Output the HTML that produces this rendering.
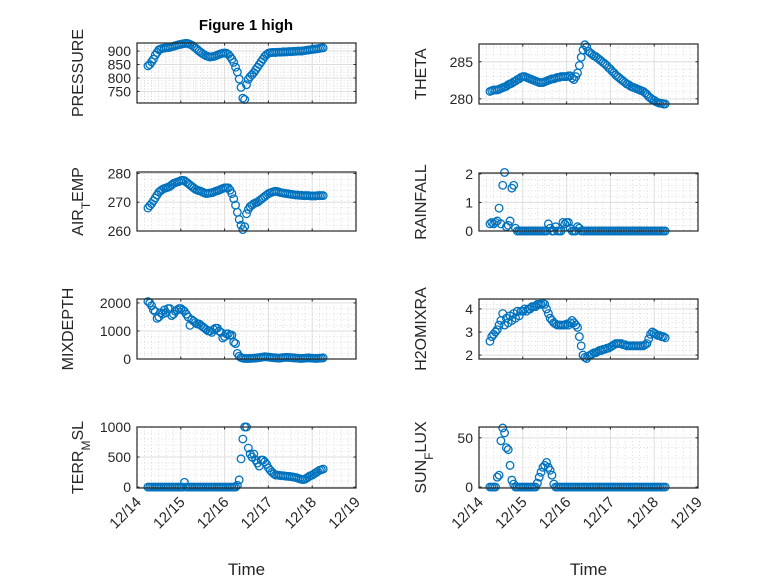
<!DOCTYPE html>
<html><head><meta charset="utf-8"><style>
body{margin:0;background:#fff}
svg{display:block;font-family:"Liberation Sans","DejaVu Sans",sans-serif}
</style></head><body>
<svg id="fig" width="778" height="583" viewBox="0 0 778 583" xmlns="http://www.w3.org/2000/svg">
<rect width="778" height="583" fill="#fff"/>
<text x="246" y="30" text-anchor="middle" font-size="15" font-weight="bold" fill="#000">Figure 1 high</text>
</svg>
<script>
// time axis: hourly samples starting 12/14 06:00 (days after 12/14 00:00)
const startDay = 0.25;
const stepHours = 1;
const dayTicks = [0,1,2,3,4,5];
const dayTickLabels = ["12/14","12/15","12/16","12/17","12/18","12/19"];

const pressure = [845,850,860,870,885,895,905,908,910,911,912,913,914,916,918,920,922,924,925,927,928,929,928,925,922,917,912,906,900,895,890,886,882,880,878,879,880,882,885,888,890,892,893,892,888,880,870,858,840,822,796,765,725,720,775,795,805,812,820,830,840,850,860,870,880,887,892,894,895,
895,895,896,896,896,897,897,897,898,898,898,899,899,900,900,900,901,902,903,904,905,906,907,908,909,910,911,912];
const theta = [281.0,281.1,281.2,281.2,281.2,281.3,281.4,281.5,281.6,281.7,
281.9,282.0,282.1,282.3,282.4,282.6,282.7,282.9,283.0,283.0,
282.9,282.8,282.7,282.6,282.5,282.4,282.3,282.2,282.2,282.2,
282.3,282.4,282.5,282.6,282.7,282.7,282.8,282.9,282.9,283.0,
283.0,283.0,283.0,283.1,283.1,282.8,282.6,283.0,283.5,284.5,
285.6,286.6,287.3,287.0,286.4,286.2,286.0,285.8,285.7,285.5,
285.3,285.1,284.9,284.7,284.5,284.2,284.0,283.7,283.5,283.2,
283.0,282.8,282.6,282.4,282.2,282.0,281.9,281.7,281.6,281.5,
281.4,281.3,281.2,281.1,281.0,280.8,280.6,280.3,280.1,279.9,
279.8,279.6,279.5,279.4,279.4,279.3,279.3];
const airTemp = [268,268.8,269.5,270.5,271.5,272.5,273.5,274,274.5,274.8,
275,275.2,275.5,276,276.5,276.8,277,277.2,277.5,277.6,
277.5,277,276.5,276,275.5,275,274.5,274.2,274,273.8,
273.5,273.2,273,273.1,273.2,273.3,273.5,273.8,274,274.2,
274.5,274.8,275,275,275,274.2,273,271.2,269,266.5,
264,262,260.5,261.5,266,267.5,268.5,269,269.5,269.8,
270,270.5,271,271.5,272,272.5,273,273.2,273.5,273.7,
273.8,273.7,273.5,273.3,273.2,273.1,273,272.9,272.8,272.7,
272.6,272.5,272.5,272.4,272.4,272.3,272.3,272.3,272.3,272.2,
272.2,272.2,272.2,272.3,272.3,272.3,272.3];
const rainfall = [0.25,0.3,0.25,0.3,0.35,0.8,0.25,1.6,2.05,0.15,
0.2,0.35,1.5,1.6,0.1,0,0,0,0,0,
0,0,0,0,0,0,0,0,0,0,
0,0,0.25,0.1,0,0,0.15,0,0,0,
0.3,0.25,0.3,0.3,0.1,0,0,0,0.15,0.1,
0,0,0,0,0,0,0,0,0,0,
0,0,0,0,0,0,0,0,0,0,
0,0,0,0,0,0,0,0,0,0,
0,0,0,0,0,0,0,0,0,0,
0,0,0,0,0,0,0];
const mixDepth = [2050,2000,1900,1750,1700,1450,1500,1650,1600,1750,
1650,1800,1800,1550,1600,1700,1750,1800,1800,1750,
1700,1600,1500,1200,1400,1350,1300,1250,1250,1200,
1150,1100,1050,1000,1000,950,1050,1100,1100,1000,
950,750,800,900,900,850,850,600,550,200,
100,50,30,20,20,20,20,25,30,35,
40,50,60,70,80,75,70,60,50,45,
40,35,30,40,50,55,60,55,50,45,
40,35,30,25,20,25,30,35,40,35,
30,25,20,25,30,35,40];
const h2oMix = [2.6,2.8,2.9,3.0,3.1,3.3,3.5,3.8,3.3,3.6,
3.4,3.7,3.5,3.8,3.6,3.9,3.7,3.9,3.9,4.0,
3.9,4.0,4.0,4.1,4.1,4.1,4.2,4.2,4.2,4.25,
4.2,4.0,3.8,3.6,3.5,3.4,3.35,3.3,3.3,3.3,
3.3,3.3,3.35,3.3,3.4,3.5,3.4,3.3,3.2,2.8,
2.4,2.0,1.9,1.85,1.95,2.0,2.05,2.1,2.1,2.15,
2.2,2.2,2.25,2.25,2.3,2.3,2.35,2.4,2.45,2.5,
2.5,2.5,2.5,2.45,2.45,2.4,2.4,2.4,2.4,2.4,
2.4,2.4,2.4,2.4,2.4,2.45,2.5,2.7,2.9,3.0,
2.95,2.9,2.85,2.85,2.8,2.8,2.75];
const terrMsl = [0,0,0,0,0,0,0,0,0,0,
0,0,0,0,0,0,0,0,0,0,
80,0,0,0,0,0,0,0,0,0,
0,0,0,0,0,0,0,0,0,0,
0,0,0,0,0,0,0,0,0,30,
120,470,800,1000,1000,650,550,500,550,450,
400,350,450,450,420,380,320,280,250,220,
200,200,195,190,190,185,180,180,175,170,
165,160,150,140,130,125,130,150,170,190,
200,220,240,260,280,290,300];
const sunFlux = [0,0,0,0,10,12,47,60,55,40,
38,22,7,3,0,0,0,0,0,0,
0,0,0,0,0,0,4,10,15,20,
22,25,20,17,12,3,0,0,0,0,
0,0,0,0,0,0,0,0,0,0,
0,0,0,0,0,0,0,0,0,0,
0,0,0,0,0,0,0,0,0,0,
0,0,0,0,0,0,0,0,0,0,
0,0,0,0,0,0,0,0,0,0,
0,0,0,0,0,0,0];

const pressureTicks = [750,800,850,900];
const thetaTicks = [280,285];
const airTicks = [260,270,280];
const rainTicks = [0,1,2];
const mixTicks = [0,1000,2000];
const h2oTicks = [2,3,4];
const terrTicks = [0,500,1000];
const sunTicks = [0,50];

const NS = "http://www.w3.org/2000/svg";
const svg = document.getElementById('fig');
function mk(tag, attrs, parent){
  const e = document.createElementNS(NS, tag);
  for (const k in attrs) e.setAttribute(k, attrs[k]);
  (parent||svg).appendChild(e);
  return e;
}
const times = [];
for (let i=0;i<pressure.length;i++) times.push(startDay + i*stepHours/24);

function panel(o){
  const {x0,y0,w,h,ymin,ymax,values,ticks,key,label,minorY,lx,showX} = o;
  const g = mk('g',{});
  
  
  const xs = d => x0 + (d-0)/5*w;
  const ys = v => y0 + h - (v-ymin)/(ymax-ymin)*h;
  mk('rect',{x:x0,y:y0,width:w,height:h,fill:'#fff'},g);
  for (let d=0; d<5; d++) for (let k=1;k<6;k++){
    const xx = xs(d+k/6);
    mk('line',{x1:xx,x2:xx,y1:y0,y2:y0+h,stroke:'#c8c8c8','stroke-width':0.6,'stroke-dasharray':'1 2.5'},g);
  }
  const mstep = minorY;
  for (let v=Math.ceil(ymin/mstep)*mstep; v<ymax; v+=mstep){
    const yy = ys(v);
    mk('line',{x1:x0,x2:x0+w,y1:yy,y2:yy,stroke:'#c8c8c8','stroke-width':0.6,'stroke-dasharray':'1 2.5'},g);
  }
  dayTicks.forEach(d=>{const xx=xs(d); mk('line',{x1:xx,x2:xx,y1:y0,y2:y0+h,stroke:'#dedede','stroke-width':1},g);});
  ticks.forEach(v=>{const yy=ys(v); mk('line',{x1:x0,x2:x0+w,y1:yy,y2:yy,stroke:'#dedede','stroke-width':1},g);});
  ticks.forEach(v=>{
    const yy=ys(v);
    mk('line',{x1:x0,x2:x0+2.5,y1:yy,y2:yy,stroke:'#262626','stroke-width':1},g);
    mk('line',{x1:x0+w,x2:x0+w-2.5,y1:yy,y2:yy,stroke:'#262626','stroke-width':1},g);
    const t = mk('text',{x:x0-6,y:yy+5,'text-anchor':'end','font-size':14,fill:'#262626'},g);
    
    
    t.textContent = v;
  });
  dayTicks.forEach((d,i)=>{
    const xx=xs(d);
    mk('line',{x1:xx,x2:xx,y1:y0+h,y2:y0+h-2.5,stroke:'#262626','stroke-width':1},g);
    mk('line',{x1:xx,x2:xx,y1:y0,y2:y0+2.5,stroke:'#262626','stroke-width':1},g);
    if (showX){
      const tx = xx+5, ty = y0+h+15;
      const t = mk('text',{x:tx,y:ty,'text-anchor':'end','font-size':15,fill:'#262626',transform:`rotate(-45 ${tx} ${ty})`},g);
      
      
      t.textContent = dayTickLabels[i];
    }
  });
  const mg = mk('g',{},g);
  
  
  values.forEach((v,i)=>{
    const c = mk('circle',{cx:xs(times[i]),cy:ys(v),r:3.8,fill:'none',stroke:'#0072BD','stroke-width':1.3},mg);
    
    
  });
  mk('rect',{x:x0,y:y0,width:w,height:h,fill:'none',stroke:'#262626','stroke-width':1.2},g);
  const cy = y0+h/2;
  const yl = mk('text',{x:lx,y:cy,'text-anchor':'middle','font-size':16,fill:'#262626',transform:`rotate(-90 ${lx} ${cy})`},g);
  
  
  label.forEach(p=>{
    const ts = mk('tspan',{},yl);
    if (p.sub){ ts.setAttribute('baseline-shift','sub'); ts.setAttribute('font-size','12'); }
    ts.textContent = p.t;
  });
  if (showX){
    const xl = mk('text',{x:x0+w/2,y:575,'text-anchor':'middle','font-size':17,fill:'#262626'},g);
    
    
    xl.textContent = 'Time';
  }
}
const L=137, R=479, W=219, H=61;
panel({x0:L,y0:43,w:W,h:H-1,ymin:707,ymax:930,values:pressure,ticks:pressureTicks,key:'pressure',label:[{t:'PRESSURE'}],minorY:10,lx:83});
panel({x0:R,y0:44,w:W,h:H-1,ymin:279.3,ymax:287.4,values:theta,ticks:thetaTicks,key:'theta',label:[{t:'THETA'}],minorY:1,lx:426});
panel({x0:L,y0:172,w:W,h:59,ymin:260,ymax:280.5,values:airTemp,ticks:airTicks,key:'air-temp',label:[{t:'AIR'},{t:'T',sub:true},{t:'EMP'}],minorY:2,lx:83});
panel({x0:R,y0:173,w:W,h:58,ymin:0,ymax:2.03,values:rainfall,ticks:rainTicks,key:'rainfall',label:[{t:'RAINFALL'}],minorY:0.2,lx:426});
panel({x0:L,y0:299,w:W,h:60,ymin:0,ymax:2140,values:mixDepth,ticks:mixTicks,key:'mixdepth',label:[{t:'MIXDEPTH'}],minorY:200,lx:73});
panel({x0:R,y0:299,w:W,h:60,ymin:1.83,ymax:4.43,values:h2oMix,ticks:h2oTicks,key:'h2omixra',label:[{t:'H2OMIXRA'}],minorY:0.2,lx:426});
panel({x0:L,y0:427,w:W,h:61,ymin:-15,ymax:1000,values:terrMsl,ticks:terrTicks,key:'terr-msl',label:[{t:'TERR'},{t:'M',sub:true},{t:'SL'}],minorY:100,lx:83,showX:true});
panel({x0:R,y0:427,w:W,h:61,ymin:-1,ymax:61,values:sunFlux,ticks:sunTicks,key:'sun-flux',label:[{t:'SUN'},{t:'F',sub:true},{t:'LUX'}],minorY:10,lx:426,showX:true});
</script>
</body></html>
